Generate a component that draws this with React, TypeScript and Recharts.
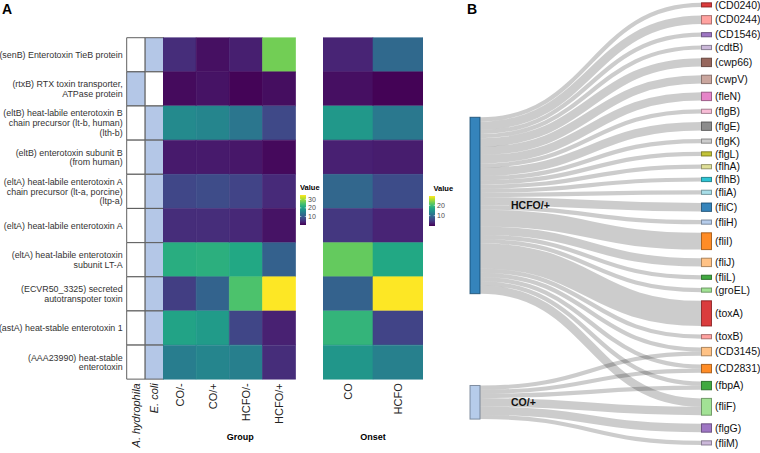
import React from 'react';
import { BarChart, Bar, XAxis, YAxis, Cell, Sankey } from 'recharts';

const FONT = '"Liberation Sans", Arial, Helvetica, sans-serif';

// ---- panel A: heatmap rows ----
const genes = [
  '(senB) Enterotoxin TieB protein',
  '(rtxB) RTX toxin transporter,\nATPase protein',
  '(eltB) heat-labile enterotoxin B\nchain precursor (lt-b, human)\n(lth-b)',
  '(eltB) enterotoxin subunit B\n(from human)',
  '(eltA) heat-labile enterotoxin A\nchain precursor (lt-a, porcine)\n(ltp-a)',
  '(eltA) heat-labile enterotoxin A',
  '(eltA) heat-labile enterotoxin\nsubunit LT-A',
  '(ECVR50_3325) secreted\nautotranspoter toxin',
  '(astA) heat-stable enterotoxin 1',
  '(AAA23990) heat-stable\nenterotoxin',
];

const species = ['A. hydrophila', 'E. coli'];
const aHydrophila = [0, 1, 0, 0, 0, 0, 0, 0, 0, 0];
const eColi = [1, 0, 1, 1, 1, 1, 1, 1, 1, 1];

const groups = ['CO/-', 'CO/+', 'HCFO/-', 'HCFO/+'];
const coMinus = [4.5, 1, 16.5, 2.5, 7.4, 4.5, 21.7, 6.3, 20.3, 14.7];
const coPlus = [1.5, 1.8, 15.8, 2.5, 8, 4.5, 22, 11, 19, 15.8];
const hcfoMinus = [3, 0.3, 13.7, 2.2, 7, 3.9, 21, 25, 7.2, 15];
const hcfoPlus = [27.5, 1.3, 7.7, 0.8, 4.2, 1.8, 10.8, 35, 3.2, 4.5];
const groupRange = [0, 35];
const groupTicks = [10, 20, 30];

const onsets = ['CO', 'HCFO'];
const onsetCO = [2.9, 1.2, 15.4, 2.6, 9.6, 4.6, 22, 9, 18.9, 15.1];
const onsetHCFO = [9.9, 0.2, 11.6, 2.3, 6.7, 2.9, 17.4, 29, 5.8, 12.5];
const onsetRange = [0, 29];
const onsetTicks = [10, 20];

// ---- panel B: sankey ----
const sources = ['HCFO/+', 'CO/+'];
const targets = [
  '(CD0240)', '(CD0244)', '(CD1546)', '(cdtB)', '(cwp66)', '(cwpV)', '(fleN)', '(flgB)',
  '(flgE)', '(flgK)', '(flgL)', '(flhA)', '(flhB)', '(fliA)', '(fliC)', '(fliH)',
  '(fliI)', '(fliJ)', '(fliL)', '(groEL)', '(toxA)', '(toxB)', '(CD3145)', '(CD2831)',
  '(fbpA)', '(fliF)', '(flgG)', '(fliM)',
];
const hcfoFlows = [1, 2, 1, 1, 2, 2, 2, 1, 2, 1, 1, 1, 1, 1, 2, 1, 4, 2, 1, 1, 6, 1, 1, 1, 1, 2, 0, 0];
const coFlows = [0, 0, 0, 0, 0, 0, 0, 0, 0, 0, 0, 0, 0, 0, 0, 0, 0, 0, 0, 0, 0, 0, 1, 1, 1, 2, 2, 1];
const sourceColors = ['#1f77b4', '#aec7e8'];
const targetColors = [
  '#d62728', '#ff9896', '#9467bd', '#c5b0d5', '#8c564b', '#c49c94', '#e377c2', '#f7b6d2',
  '#7f7f7f', '#c7c7c7', '#bcbd22', '#dbdb8d', '#17becf', '#9edae5', '#1f77b4', '#aec7e8',
  '#ff7f0e', '#ffbb78', '#2ca02c', '#98df8a', '#d62728', '#ff9896', '#ffbb78', '#ff7f0e',
  '#2ca02c', '#98df8a', '#9467bd', '#c5b0d5',
];

const VIRIDIS = ['#440154', '#482475', '#414487', '#355f8d', '#2a788e', '#21918c', '#22a884', '#44bf70', '#7ad151', '#bddf26', '#fde725'];

const hexToRgb = (h: string) => [1, 3, 5].map((i) => parseInt(h.slice(i, i + 2), 16));
const rgbToHex = (c: number[]) => '#' + c.map((v) => Math.round(Math.max(0, Math.min(255, v))).toString(16).padStart(2, '0')).join('');

const viridis = (t: number) => {
  const s = Math.max(0, Math.min(1, t)) * 10;
  const i = Math.min(9, Math.floor(s));
  const f = s - i;
  const a = hexToRgb(VIRIDIS[i]);
  const b = hexToRgb(VIRIDIS[i + 1]);
  return rgbToHex(a.map((v, k) => v + (b[k] - v) * f));
};

const darker = (h: string, k = 0.6) => rgbToHex(hexToRgb(h).map((v) => v * k));

const TOP = 37.7;
const PLOT_H = 341.6;
const X_AXIS_H = 453 - TOP - PLOT_H;

const GeneTick = (props: any) => {
  const { x, y, payload } = props;
  const lines = String(payload.value).split('\n');
  const lh = 9.8;
  return (
    <text x={x} y={y} textAnchor="end" fontSize={8.9} fill="#333" fontFamily={FONT}>
      {lines.map((l, i) => (
        <tspan key={i} x={x} dy={i === 0 ? -((lines.length - 1) * lh) / 2 + 3.2 : lh}>
          {l}
        </tspan>
      ))}
    </text>
  );
};

const makeColumnTick = (labels: string[], italic: boolean) => (props: any) => {
  const { x, y, payload } = props;
  return (
    <text
      transform={`translate(${x + 4},${y}) rotate(-90)`}
      textAnchor="end"
      fontSize={11}
      fontStyle={italic ? 'italic' : 'normal'}
      fill="#222"
      fontFamily={FONT}
    >
      {labels[Math.floor(payload.value)]}
    </text>
  );
};

interface HeatProps {
  left: number;
  width: number;
  columns: string[];
  fills: string[][];
  cellStroke?: string;
  yAxisWidth?: number;
  title?: string;
  titleDx?: number;
  italic?: boolean;
}

const Heat: React.FC<HeatProps> = ({ left, width, columns, fills, cellStroke, yAxisWidth, title, titleDx = 0, italic = false }) => {
  const data = genes.map((gene) => {
    const row: Record<string, any> = { gene };
    columns.forEach((_, c) => (row['c' + c] = 1));
    return row;
  });
  return (
    <div style={{ position: 'absolute', left, top: 0 }}>
      <BarChart
        width={width}
        height={453}
        data={data}
        layout="vertical"
        barCategoryGap={0}
        barGap={0}
        margin={{ top: TOP, right: 0, bottom: 0, left: 0 }}
      >
        <XAxis
          type="number"
          domain={[0, columns.length]}
          ticks={columns.map((_, i) => i + 0.5)}
          interval={0}
          tick={makeColumnTick(columns, italic)}
          tickLine={false}
          axisLine={false}
          tickSize={0}
          tickMargin={4}
          height={X_AXIS_H}
          label={
            title
              ? { value: title, position: 'insideBottom', offset: 13, dx: titleDx, fontSize: 9, fontWeight: 'bold', fill: '#000', fontFamily: FONT }
              : undefined
          }
        />
        {yAxisWidth ? (
          <YAxis
            type="category"
            dataKey="gene"
            width={yAxisWidth}
            interval={0}
            tick={GeneTick}
            tickLine={false}
            axisLine={false}
            tickSize={0}
            tickMargin={4}
          />
        ) : (
          <YAxis type="category" dataKey="gene" hide />
        )}
        {columns.map((col, c) => (
          <Bar key={col} dataKey={'c' + c} stackId="cells" isAnimationActive={false}>
            {genes.map((g, r) => (
              <Cell
                key={g}
                fill={fills[c][r]}
                stroke={cellStroke || fills[c][r]}
                strokeWidth={cellStroke ? 1 : 0.6}
              />
            ))}
          </Bar>
        ))}
      </BarChart>
    </div>
  );
};

const ColorBar: React.FC<{ left: number; top: number; range: number[]; ticks: number[]; titleDx?: number }> = ({ left, top, range, ticks, titleDx = 0 }) => {
  const h = 30;
  const w = 6;
  const pad = 12;
  const id = `vir-${left}`;
  const yOf = (v: number) => pad + h - ((v - range[0]) / (range[1] - range[0])) * h;
  return (
    <svg style={{ position: 'absolute', left, top: top - pad }} width={40} height={h + pad + 4} fontFamily={FONT}>
      <defs>
        <linearGradient id={id} x1="0" y1="1" x2="0" y2="0">
          {VIRIDIS.map((c, i) => (
            <stop key={i} offset={i / 10} stopColor={c} />
          ))}
        </linearGradient>
      </defs>
      <text x={titleDx} y={pad - 5} fontSize={7.5} fontWeight="bold" fill="#000">
        Value
      </text>
      <rect x={0} y={pad} width={w} height={h} fill={`url(#${id})`} />
      {ticks.map((t) => (
        <g key={t}>
          <line x1={0} x2={1.3} y1={yOf(t)} y2={yOf(t)} stroke="#fff" strokeWidth={0.6} />
          <line x1={w - 1.3} x2={w} y1={yOf(t)} y2={yOf(t)} stroke="#fff" strokeWidth={0.6} />
          <text x={w + 2} y={yOf(t) + 2.5} fontSize={7} fill="#4d4d4d">
            {t}
          </text>
        </g>
      ))}
    </svg>
  );
};

const sankeyData = {
  nodes: [...sources, ...targets].map((name) => ({ name })),
  links: [
    ...hcfoFlows.map((v, i) => ({ source: 0, target: sources.length + i, value: v })),
    ...coFlows.map((v, i) => ({ source: 1, target: sources.length + i, value: v })),
  ].filter((l) => l.value > 0),
};
const nodeColors = [...sourceColors, ...targetColors];

const renderNode = (p: any) => {
  const { x, y, width, height, index, payload } = p;
  const color = nodeColors[index];
  const isSource = index < sources.length;
  return (
    <g key={`node-${index}`}>
      <rect x={x} y={y} width={width} height={height} fill={color} fillOpacity={0.9} stroke={darker(color)} strokeWidth={1} strokeOpacity={0.8} />
      <text
        x={isSource ? x + width + 31 : x + width + 3.5}
        y={y + height / 2}
        dy="0.35em"
        fontSize={10.5}
        fontWeight={isSource ? 'bold' : 'normal'}
        fill="#111"
        fontFamily={FONT}
      >
        {payload.name}
      </text>
    </g>
  );
};

const renderLink = (p: any) => {
  const { sourceX, targetX, sourceY, targetY, sourceControlX, targetControlX, linkWidth, index } = p;
  return (
    <path
      key={`link-${index}`}
      d={`M${sourceX},${sourceY}C${sourceControlX},${sourceY} ${targetControlX},${targetY} ${targetX},${targetY}`}
      fill="none"
      stroke="#000"
      strokeOpacity={0.2}
      strokeWidth={Math.max(1, linkWidth)}
    />
  );
};

const App: React.FC = () => {
  const speciesFills = [aHydrophila, eColi].map((col) => col.map((v) => (v ? '#b4c7e7' : '#ffffff')));
  const groupFills = [coMinus, coPlus, hcfoMinus, hcfoPlus].map((col) =>
    col.map((v) => viridis((v - groupRange[0]) / (groupRange[1] - groupRange[0])))
  );
  const onsetFills = [onsetCO, onsetHCFO].map((col) =>
    col.map((v) => viridis((v - onsetRange[0]) / (onsetRange[1] - onsetRange[0])))
  );

  return (
    <div style={{ position: 'absolute', left: 0, top: 0, width: 760, height: 453, background: '#fff', fontFamily: FONT }}>
      <div style={{ position: 'absolute', left: 2, top: 0, fontSize: 14, fontWeight: 'bold', lineHeight: '18px' }}>A</div>
      <div style={{ position: 'absolute', left: 467, top: 0, fontSize: 14, fontWeight: 'bold', lineHeight: '18px' }}>B</div>

      <Heat left={0} width={163.6} columns={species} fills={speciesFills} cellStroke="#5f5f5f" yAxisWidth={126.7} italic />
      <Heat left={163.3} width={132.7} columns={groups} fills={groupFills} title="Group" titleDx={11} />
      <Heat left={323.3} width={100} columns={onsets} fills={onsetFills} title="Onset" />

      <ColorBar left={299.5} top={194.7} range={groupRange} ticks={groupTicks} />
      <ColorBar left={428.5} top={195.7} range={onsetRange} ticks={onsetTicks} titleDx={4.5} />

      <div style={{ position: 'absolute', left: 460, top: 0 }}>
        <Sankey
          width={300}
          height={453}
          data={sankeyData}
          nodeWidth={10}
          nodePadding={8.6}
          iterations={64}
          sort={false}
          linkCurvature={0.5}
          margin={{ top: 2.8, right: 48.5, bottom: 8, left: 10 }}
          node={renderNode}
          link={renderLink}
        />
      </div>
    </div>
  );
};

export default App;
